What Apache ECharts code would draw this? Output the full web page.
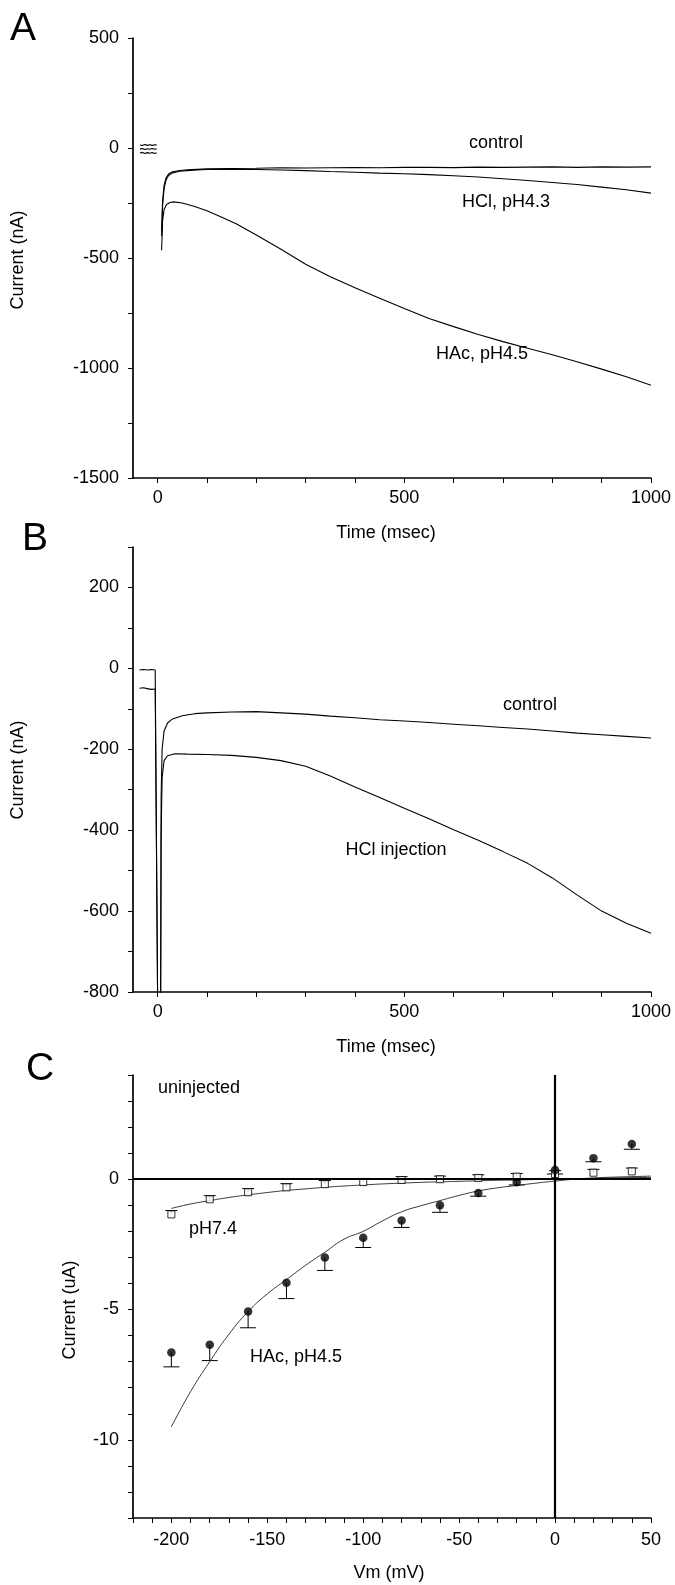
<!DOCTYPE html>
<html><head><meta charset="utf-8">
<script src="https://cdn.jsdelivr.net/npm/echarts@6/dist/echarts.min.js"></script>
<style>html,body{margin:0;padding:0;background:#fff}#c{width:675px;height:1585px}</style>
</head><body><div id="c"></div>
<script>
// ---------- Panel A : current traces (nA) vs time (ms) ----------
const aControlPre = [[-36,14],[-31,11],[-26,16],[-21,12],[-16,15],[-11,12],[-6,15],[-2,13]];
const aHclPre     = [[-36,-5],[-31,-2],[-26,-7],[-21,-3],[-16,-6],[-11,-2],[-6,-6],[-2,-4]];
const aHacPre     = [[-36,-23],[-31,-20],[-26,-25],[-21,-21],[-16,-24],[-11,-20],[-6,-25],[-2,-22]];
const aControl = [[8,-380],[10,-240],[13,-170],[17,-135],[22,-118],[30,-108],[45,-102],[60,-99],[80,-97],[100,-95],[150,-93],[200,-92],[250,-90],[300,-91],[350,-90],[400,-89],[450,-90],[500,-88],[550,-88],[600,-89],[650,-87],[700,-88],[750,-87],[800,-86],[850,-88],[900,-86],[950,-87],[1000,-86]];
const aHcl = [[8,-400],[10,-260],[13,-185],[17,-145],[22,-125],[30,-113],[45,-106],[60,-103],[80,-100],[100,-98],[150,-97],[200,-98],[250,-100],[300,-103],[350,-107],[400,-110],[450,-114],[500,-117],[550,-121],[600,-126],[650,-132],[700,-140],[750,-148],[800,-157],[850,-166],[900,-178],[950,-190],[1000,-205]];
const aHac = [[8,-465],[10,-330],[13,-280],[18,-257],[25,-248],[32,-245],[50,-250],[75,-266],[100,-285],[130,-315],[160,-345],[200,-395],[250,-460],[300,-528],[350,-585],[400,-635],[450,-683],[500,-730],[550,-775],[600,-812],[650,-848],[700,-880],[750,-910],[800,-940],[850,-972],[900,-1005],[950,-1040],[1000,-1078]];

// ---------- Panel B : current traces (nA) vs time (ms) ----------
const bControl = [[-37,-4],[-33,-6],[-29,-3],[-25,-5],[-21,-4],[-17,-6],[-13,-3],[-9,-5],[-5,-4],[-1,-5],[0,-830],[6,-830],[7,-320],[9,-200],[13,-155],[20,-135],[30,-125],[50,-117],[75,-112],[100,-110],[150,-108],[200,-107],[250,-110],[300,-113],[350,-118],[400,-122],[450,-127],[500,-130],[550,-134],[600,-138],[650,-142],[700,-146],[750,-150],[800,-155],[850,-160],[900,-164],[950,-168],[1000,-172]];
const bHcl = [[-37,-49],[-33,-52],[-29,-48],[-25,-51],[-21,-50],[-17,-47],[-13,-52],[-9,-49],[-5,-51],[-1,-50],[0,-830],[6,-830],[7,-420],[9,-270],[13,-228],[20,-216],[35,-211],[60,-212],[100,-213],[150,-215],[200,-220],[250,-228],[300,-242],[350,-266],[400,-293],[450,-319],[500,-346],[550,-372],[600,-399],[650,-425],[700,-453],[750,-482],[800,-518],[850,-560],[900,-600],[950,-630],[1000,-655]];

// ---------- Panel C : I-V (uA vs mV) ----------
const cV      = [-200,-180,-160,-140,-120,-100,-80,-60,-40,-20,0,20,40];
const hacI    = [-6.65,-6.35,-5.08,-3.97,-3.0,-2.25,-1.58,-1.0,-0.53,-0.12,0.35,0.81,1.35];
const hacLow  = [-7.2,-6.96,-5.7,-4.58,-3.5,-2.62,-1.85,-1.27,-0.65,-0.22,0.2,0.67,1.15];
const ph74I   = [-1.35,-0.77,-0.5,-0.31,-0.19,-0.11,-0.03,0.0,0.05,0.1,0.2,0.25,0.3];
const ph74Hi  = [-1.2,-0.63,-0.36,-0.17,-0.05,0.03,0.1,0.12,0.17,0.22,0.33,0.38,0.43];
const fitV    = [-200,-190,-180,-170,-160,-150,-140,-130,-120,-110,-100,-90,-80,-70,-60,-50,-40,-30,-20,-10,0,10,20,30,40,50];
const hacFit  = [-9.5,-8.15,-7.0,-5.95,-5.08,-4.4,-3.85,-3.3,-2.8,-2.3,-2.0,-1.6,-1.25,-1.02,-0.82,-0.62,-0.45,-0.33,-0.24,-0.15,-0.07,0.0,0.05,0.08,0.1,0.12];
const ph74Fit = [-1.12,-0.95,-0.82,-0.7,-0.6,-0.51,-0.43,-0.37,-0.31,-0.26,-0.22,-0.18,-0.15,-0.12,-0.1,-0.08,-0.06,-0.04,-0.03,-0.01,0.0,0.02,0.03,0.05,0.06,0.07];

// tick label lists
const timeTicks = [0,100,200,300,400,500,600,700,800,900,1000];
const timeLabels = [0,500,1000];
const aYTicks = [-1500,-1250,-1000,-750,-500,-250,0,250,500];
const vTicks = [-220,-210,-200,-190,-180,-170,-160,-150,-140,-130,-120,-110,-100,-90,-80,-70,-60,-50,-40,-30,-20,-10,0,10,20,30,40,50];
const vLabels = [-200,-150,-100,-50,0,50];
const cYLabels = [-10,-5,0];

const FONT = 'Liberation Sans';
const plain = v => String(v);
const lab = {color:'#000', fontFamily:FONT, fontSize:18, formatter:plain};
const line = {lineStyle:{color:'#000', width:1.7}};
const tick = {show:true, length:5, lineStyle:{color:'#000', width:1}};

function xTime(gi){
  return {gridIndex:gi, type:'value', min:-50, max:1000,
    axisLine:{show:true, onZero:false, ...line},
    axisTick:{...tick, customValues:timeTicks},
    axisLabel:{...lab, margin:11, customValues:timeLabels},
    splitLine:{show:false}};
}
function trace(name, data, xi){
  return {name, type:'line', xAxisIndex:xi, yAxisIndex:xi, data:data, showSymbol:false, symbol:'none',
    lineStyle:{color:'#000', width:1.1}, clip:true, animation:false};
}
function errBars(xs, ys, ends, cap){
  return {type:'custom', xAxisIndex:2, yAxisIndex:2, animation:false, z:3,
    data: xs.map((x,i)=>[x, ys[i], ends[i]]),
    renderItem:(p, api)=>{
      const a = api.coord([api.value(0), api.value(1)]);
      const b = api.coord([api.value(0), api.value(2)]);
      return {type:'group', children:[
        {type:'line', shape:{x1:a[0],y1:a[1],x2:b[0],y2:b[1]}, style:{stroke:'#000', lineWidth:1}},
        {type:'line', shape:{x1:b[0]-cap/2,y1:b[1],x2:b[0]+cap/2,y2:b[1]}, style:{stroke:'#000', lineWidth:1}}
      ]};
    }};
}
const zip = (xs, ys) => xs.map((x,i)=>[x, ys[i]]);

const chart = echarts.init(document.getElementById('c'), null, {renderer:'canvas'});
chart.setOption({
  backgroundColor:'#fff',
  animation:false,
  textStyle:{fontFamily:FONT},
  grid:[
    {left:133, top:38, width:518, height:440},
    {left:133, top:547, width:518, height:445},
    {left:133, top:1075, width:518, height:443}
  ],
  xAxis:[
    xTime(0), xTime(1),
    {gridIndex:2, type:'value', min:-220, max:50,
      axisLine:{show:true, onZero:false, ...line},
      axisTick:{...tick, customValues:vTicks},
      axisLabel:{...lab, margin:13, customValues:vLabels},
      splitLine:{show:false}}
  ],
  yAxis:[
    {gridIndex:0, type:'value', min:-1500, max:500, interval:500,
      axisLine:{show:true, onZero:false, ...line},
      axisTick:{...tick, customValues:aYTicks},
      axisLabel:{...lab, margin:14}, splitLine:{show:false}},
    {gridIndex:1, type:'value', min:-800, max:300, interval:100,
      axisLine:{show:true, onZero:false, ...line},
      axisTick:{...tick},
      axisLabel:{...lab, margin:14, formatter:v=> (v%200===0 ? String(v) : '')}, splitLine:{show:false}},
    {gridIndex:2, type:'value', min:-13, max:4, interval:1,
      axisLine:{show:true, onZero:false, ...line},
      axisTick:{...tick},
      axisLabel:{...lab, margin:14, customValues:cYLabels}, splitLine:{show:false}}
  ],
  series:[
    trace('A control pre', aControlPre, 0),
    trace('A HCl pre', aHclPre, 0),
    trace('A HAc pre', aHacPre, 0),
    trace('A control', aControl, 0),
    trace('A HCl', aHcl, 0),
    trace('A HAc', aHac, 0),
    trace('B control', bControl, 1),
    trace('B HCl', bHcl, 1),
    {type:'line', xAxisIndex:2, yAxisIndex:2, data:[], animation:false,
      markLine:{silent:true, symbol:'none', label:{show:false},
        lineStyle:{color:'#000', width:2.2, type:'solid'},
        data:[{xAxis:0},{yAxis:0}]}},
    {type:'line', xAxisIndex:2, yAxisIndex:2, data:zip(fitV, hacFit), showSymbol:false, symbol:'none', smooth:true,
      lineStyle:{color:'#222', width:0.9}, animation:false},
    {type:'line', xAxisIndex:2, yAxisIndex:2, data:zip(fitV, ph74Fit), showSymbol:false, symbol:'none', smooth:true,
      lineStyle:{color:'#222', width:0.9}, animation:false},
    errBars(cV, hacI, hacLow, 16),
    errBars(cV, ph74I, ph74Hi, 12),
    {type:'scatter', xAxisIndex:2, yAxisIndex:2, data:zip(cV, ph74I), symbol:'rect', symbolSize:7,
      itemStyle:{color:'#fff', borderColor:'#000', borderWidth:1}, z:4, animation:false},
    {type:'scatter', xAxisIndex:2, yAxisIndex:2, data:zip(cV, hacI), symbol:'circle', symbolSize:8.5,
      itemStyle:{color:'#000'}, z:5, animation:false}
  ],
  graphic:[
    {type:'text', x:10, y:10, style:{text:'A', font:'39px "Liberation Sans"', fill:'#000'}},
    {type:'text', x:22, y:520, style:{text:'B', font:'39px "Liberation Sans"', fill:'#000'}},
    {type:'text', x:26, y:1050, style:{text:'C', font:'39px "Liberation Sans"', fill:'#000'}},
    {type:'text', x:18, y:260, rotation:Math.PI/2, style:{text:'Current (nA)', font:'18px "Liberation Sans"', fill:'#000', align:'center', verticalAlign:'middle'}},
    {type:'text', x:18, y:770, rotation:Math.PI/2, style:{text:'Current (nA)', font:'18px "Liberation Sans"', fill:'#000', align:'center', verticalAlign:'middle'}},
    {type:'text', x:70, y:1310, rotation:Math.PI/2, style:{text:'Current (uA)', font:'18px "Liberation Sans"', fill:'#000', align:'center', verticalAlign:'middle'}},
    {type:'text', x:386, y:533, style:{text:'Time (msec)', font:'18px "Liberation Sans"', fill:'#000', align:'center', verticalAlign:'middle'}},
    {type:'text', x:386, y:1047, style:{text:'Time (msec)', font:'18px "Liberation Sans"', fill:'#000', align:'center', verticalAlign:'middle'}},
    {type:'text', x:389, y:1573, style:{text:'Vm (mV)', font:'18px "Liberation Sans"', fill:'#000', align:'center', verticalAlign:'middle'}},
    {type:'text', x:496, y:143, style:{text:'control', font:'18px "Liberation Sans"', fill:'#000', align:'center', verticalAlign:'middle'}},
    {type:'text', x:506, y:202, style:{text:'HCl, pH4.3', font:'18px "Liberation Sans"', fill:'#000', align:'center', verticalAlign:'middle'}},
    {type:'text', x:482, y:354, style:{text:'HAc, pH4.5', font:'18px "Liberation Sans"', fill:'#000', align:'center', verticalAlign:'middle'}},
    {type:'text', x:530, y:705, style:{text:'control', font:'18px "Liberation Sans"', fill:'#000', align:'center', verticalAlign:'middle'}},
    {type:'text', x:396, y:850, style:{text:'HCl injection', font:'18px "Liberation Sans"', fill:'#000', align:'center', verticalAlign:'middle'}},
    {type:'text', x:199, y:1088, style:{text:'uninjected', font:'18px "Liberation Sans"', fill:'#000', align:'center', verticalAlign:'middle'}},
    {type:'text', x:213, y:1229, style:{text:'pH7.4', font:'18px "Liberation Sans"', fill:'#000', align:'center', verticalAlign:'middle'}},
    {type:'text', x:296, y:1357, style:{text:'HAc, pH4.5', font:'18px "Liberation Sans"', fill:'#000', align:'center', verticalAlign:'middle'}}
  ]
});
</script></body></html>
